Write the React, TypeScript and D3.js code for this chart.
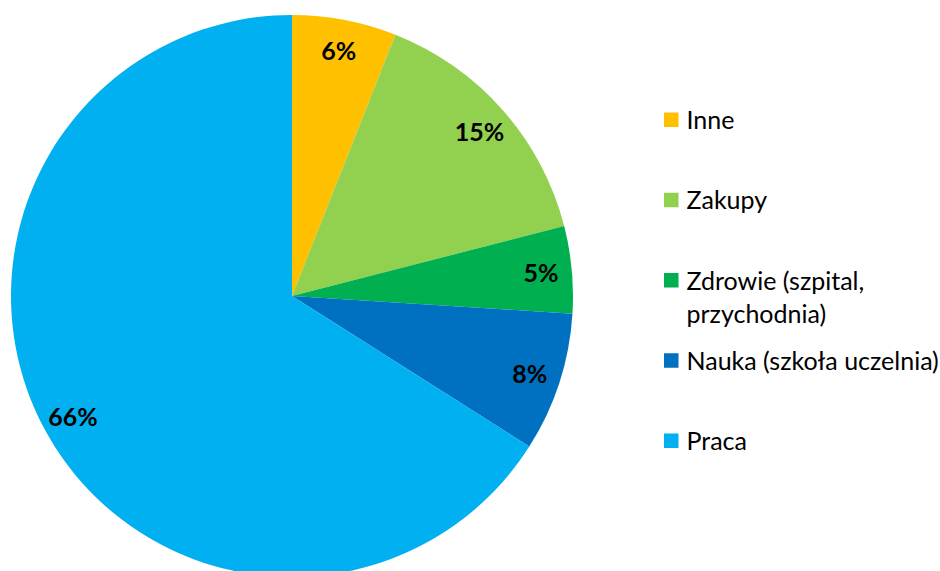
import React from "react";
import * as d3 from "d3";

const categories = ["Inne", "Zakupy", "Zdrowie (szpital, przychodnia)", "Nauka (szkoła uczelnia)", "Praca"];
const legendLines = [["Inne"], ["Zakupy"], ["Zdrowie (szpital,", "przychodnia)"], ["Nauka (szkoła uczelnia)"], ["Praca"]];
const values = [6, 15, 5, 8, 66];
const labels = ["6%", "15%", "5%", "8%", "66%"];
const colors = ["#FFC000", "#92D050", "#00B050", "#0070C0", "#00B0F0"];

const W = 940;
const H = 571;
const CX = 292;
const CY = 296;
const R = 281;
const FONT = "Lato, 'Liberation Sans', sans-serif";

export default function App() {
  const pie = d3.pie<number>().sort(null).value((d) => d)(values);
  const arc = d3.arc<d3.PieArcDatum<number>>().innerRadius(0).outerRadius(R);
  const labelArc = d3.arc<d3.PieArcDatum<number>>().innerRadius(250).outerRadius(250);

  const legendX = 664;
  const legendTop = 129;
  const legendStep = 80.25;
  const lineH = 33.5;

  return (
    <svg width={W} height={H} style={{ position: "absolute", left: 0, top: 0, background: "#fff" }}>
      <g transform={`translate(${CX},${CY})`}>
        {pie.map((p, i) => (
          <path key={i} d={arc(p) || ""} fill={colors[i]} />
        ))}
        {pie.map((p, i) => {
          const [x, y] = labelArc.centroid(p);
          return (
            <text
              key={"l" + i}
              x={x}
              y={y}
              textAnchor="middle"
              dominantBaseline="central"
              fontFamily={FONT}
              fontWeight="bold"
              fontSize={25}
              fill="#000"
            >
              {labels[i]}
            </text>
          );
        })}
      </g>
      <g>
        {categories.map((c, i) => {
          const base = legendTop + i * legendStep;
          return (
            <g key={c}>
              <rect x={legendX} y={base - 16.5} width={14.5} height={14.5} fill={colors[i]} />
              <text x={legendX + 22.5} y={base} fontFamily={FONT} fontSize={25} fill="#000">
                {legendLines[i].map((ln, j) => (
                  <tspan key={j} x={legendX + 22.5} y={base + j * lineH}>
                    {ln}
                  </tspan>
                ))}
              </text>
            </g>
          );
        })}
      </g>
    </svg>
  );
}
